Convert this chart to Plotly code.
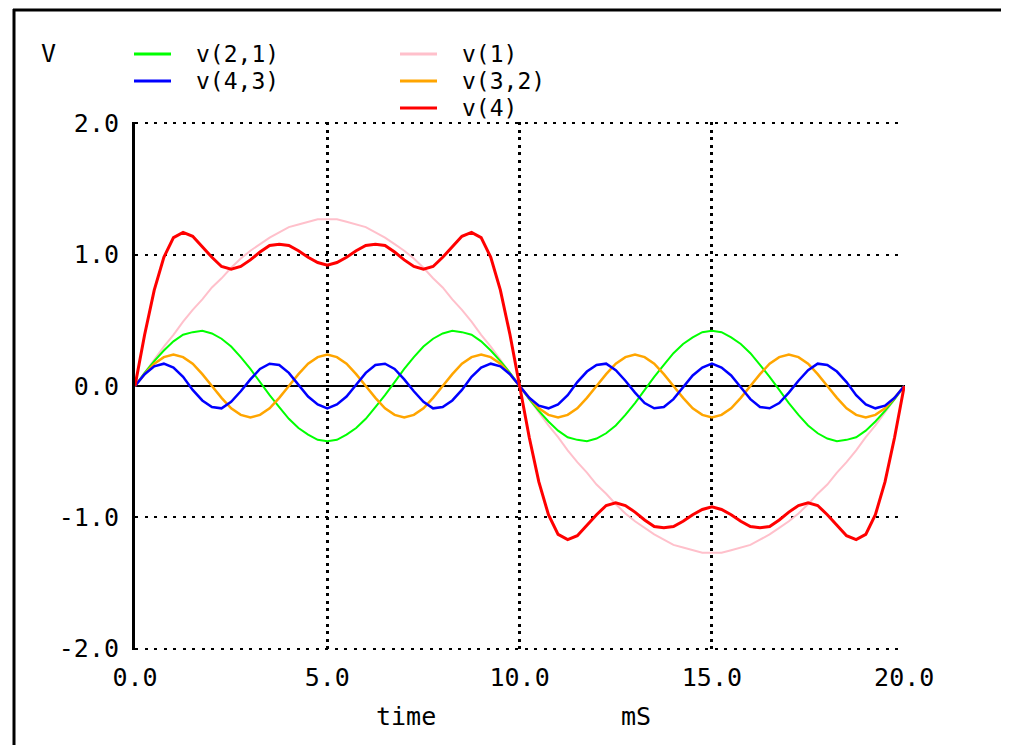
import plotly.graph_objects as go

# ---------------- data ----------------
time_ms = [0, 0.25, 0.5, 0.75, 1, 1.25, 1.5, 1.75, 2, 2.25,
           2.5, 2.75, 3, 3.25, 3.5, 3.75, 4, 4.25, 4.5, 4.75,
           5, 5.25, 5.5, 5.75, 6, 6.25, 6.5, 6.75, 7, 7.25,
           7.5, 7.75, 8, 8.25, 8.5, 8.75, 9, 9.25, 9.5, 9.75,
           10, 10.25, 10.5, 10.75, 11, 11.25, 11.5, 11.75, 12, 12.25,
           12.5, 12.75, 13, 13.25, 13.5, 13.75, 14, 14.25, 14.5, 14.75,
           15, 15.25, 15.5, 15.75, 16, 16.25, 16.5, 16.75, 17, 17.25,
           17.5, 17.75, 18, 18.25, 18.5, 18.75, 19, 19.25, 19.5, 19.75, 20]

v1 = [0, 0.10, 0.20, 0.30, 0.39, 0.49, 0.58, 0.66, 0.75, 0.82,
      0.90, 0.97, 1.03, 1.08, 1.13, 1.17, 1.21, 1.23, 1.25, 1.27,
      1.27, 1.27, 1.25, 1.23, 1.21, 1.17, 1.13, 1.08, 1.03, 0.97,
      0.90, 0.82, 0.75, 0.66, 0.58, 0.49, 0.39, 0.30, 0.20, 0.10,
      0, -0.10, -0.20, -0.30, -0.39, -0.49, -0.58, -0.66, -0.75, -0.82,
      -0.90, -0.97, -1.03, -1.08, -1.13, -1.17, -1.21, -1.23, -1.25, -1.27,
      -1.27, -1.27, -1.25, -1.23, -1.21, -1.17, -1.13, -1.08, -1.03, -0.97,
      -0.90, -0.82, -0.75, -0.66, -0.58, -0.49, -0.39, -0.30, -0.20, -0.10, 0]

v21 = [0, 0.10, 0.19, 0.27, 0.34, 0.39, 0.41, 0.42, 0.40, 0.36,
       0.30, 0.22, 0.13, 0.03, -0.07, -0.16, -0.25, -0.32, -0.37, -0.41,
       -0.42, -0.41, -0.37, -0.32, -0.25, -0.16, -0.07, 0.03, 0.13, 0.22,
       0.30, 0.36, 0.40, 0.42, 0.41, 0.39, 0.34, 0.27, 0.19, 0.10,
       0, -0.10, -0.19, -0.27, -0.34, -0.39, -0.41, -0.42, -0.40, -0.36,
       -0.30, -0.22, -0.13, -0.03, 0.07, 0.16, 0.25, 0.32, 0.37, 0.41,
       0.42, 0.41, 0.37, 0.32, 0.25, 0.16, 0.07, -0.03, -0.13, -0.22,
       -0.30, -0.36, -0.40, -0.42, -0.41, -0.39, -0.34, -0.27, -0.19, -0.10, 0]

v32 = [0, 0.09, 0.17, 0.22, 0.24, 0.22, 0.17, 0.09, 0, -0.09,
       -0.17, -0.22, -0.24, -0.22, -0.17, -0.09, 0, 0.09, 0.17, 0.22,
       0.24, 0.22, 0.17, 0.09, 0, -0.09, -0.17, -0.22, -0.24, -0.22,
       -0.17, -0.09, 0, 0.09, 0.17, 0.22, 0.24, 0.22, 0.17, 0.09,
       0, -0.09, -0.17, -0.22, -0.24, -0.22, -0.17, -0.09, 0, 0.09,
       0.17, 0.22, 0.24, 0.22, 0.17, 0.09, 0, -0.09, -0.17, -0.22,
       -0.24, -0.22, -0.17, -0.09, 0, 0.09, 0.17, 0.22, 0.24, 0.22,
       0.17, 0.09, 0, -0.09, -0.17, -0.22, -0.24, -0.22, -0.17, -0.09, 0]

v43 = [0, 0.09, 0.15, 0.17, 0.14, 0.07, -0.03, -0.11, -0.16, -0.17,
       -0.12, -0.04, 0.05, 0.13, 0.17, 0.16, 0.10, 0.01, -0.08, -0.14,
       -0.17, -0.14, -0.08, 0.01, 0.10, 0.16, 0.17, 0.13, 0.05, -0.04,
       -0.12, -0.17, -0.16, -0.11, -0.03, 0.07, 0.14, 0.17, 0.15, 0.09,
       0, -0.09, -0.15, -0.17, -0.14, -0.07, 0.03, 0.11, 0.16, 0.17,
       0.12, 0.04, -0.05, -0.13, -0.17, -0.16, -0.10, -0.01, 0.08, 0.14,
       0.17, 0.14, 0.08, -0.01, -0.10, -0.16, -0.17, -0.13, -0.05, 0.04,
       0.12, 0.17, 0.16, 0.11, 0.03, -0.07, -0.14, -0.17, -0.15, -0.09, 0]

v4 = [0, 0.39, 0.73, 0.98, 1.13, 1.17, 1.14, 1.06, 0.98, 0.91,
      0.89, 0.91, 0.96, 1.02, 1.07, 1.08, 1.07, 1.03, 0.98, 0.94,
      0.92, 0.94, 0.98, 1.03, 1.07, 1.08, 1.07, 1.02, 0.96, 0.91,
      0.89, 0.91, 0.98, 1.06, 1.14, 1.17, 1.13, 0.98, 0.73, 0.39,
      0, -0.39, -0.73, -0.98, -1.13, -1.17, -1.14, -1.06, -0.98, -0.91,
      -0.89, -0.91, -0.96, -1.02, -1.07, -1.08, -1.07, -1.03, -0.98, -0.94,
      -0.92, -0.94, -0.98, -1.03, -1.07, -1.08, -1.07, -1.02, -0.96, -0.91,
      -0.89, -0.91, -0.98, -1.06, -1.14, -1.17, -1.13, -0.98, -0.73, -0.39, 0]

x_ticks = [0, 5, 10, 15, 20]
x_tick_text = ["0.0", "5.0", "10.0", "15.0", "20.0"]
y_ticks = [-2, -1, 0, 1, 2]
y_tick_text = ["-2.0", "-1.0", "0.0", "1.0", "2.0"]

# name, values, colour, width  (drawing order)
series = [
    ("v(1)", v1, "#ffc0cb", 2),
    ("v(2,1)", v21, "#00ff00", 2),
    ("v(3,2)", v32, "#ffa500", 2.5),
    ("v(4,3)", v43, "#0000ff", 2.5),
    ("v(4)", v4, "#ff0000", 3),
]

# legend: name, colour, line-x0, line-x1, row-y, text-x  (page pixels)
legend_items = [
    ("v(2,1)", "#00ff00", 134, 171, 54, 195),
    ("v(4,3)", "#0000ff", 134, 171, 81, 195),
    ("v(1)", "#ffc0cb", 400, 437, 54, 461),
    ("v(3,2)", "#ffa500", 400, 437, 81, 461),
    ("v(4)", "#ff0000", 400, 437, 108, 461),
]

# ---------------- layout helpers ----------------
OFF = 8                      # page body margin
W, H = 993, 737              # figure size (fits the 1009x753 window)
PL, PR, PT, PB = 127, 897, 114, 642   # plot area in figure pixels
FONT = dict(family="DejaVu Sans Mono", size=25, color="black")
LEG_FONT = dict(family="DejaVu Sans Mono", size=23, color="black")


def pxx(x_page):
    return (x_page - OFF - PL) / (PR - PL)


def pxy(y_page):
    return (PB - (y_page - OFF)) / (PB - PT)


fig = go.Figure()
for name, vals, color, width in series:
    fig.add_trace(go.Scatter(x=time_ms, y=vals, mode="lines", name=name,
                             line=dict(color=color, width=width),
                             showlegend=False, hoverinfo="skip"))

shapes = []
annotations = []

# legend samples
for name, color, x0, x1, yy, tx in legend_items:
    shapes.append(dict(type="line", xref="paper", yref="paper",
                       x0=pxx(x0), x1=pxx(x1), y0=pxy(yy), y1=pxy(yy),
                       line=dict(color=color, width=3)))
    annotations.append(dict(text=name, xref="paper", yref="paper",
                            x=pxx(tx), y=pxy(yy), xanchor="left", yanchor="middle",
                            showarrow=False, font=LEG_FONT, borderpad=0))

# window frame (left and top)
shapes.append(dict(type="line", xref="paper", yref="paper",
                   x0=pxx(14), x1=pxx(14), y0=pxy(9), y1=pxy(760),
                   line=dict(color="black", width=3)))
shapes.append(dict(type="line", xref="paper", yref="paper",
                   x0=pxx(13), x1=pxx(1001), y0=pxy(10), y1=pxy(10),
                   line=dict(color="black", width=3)))

annotations.append(dict(text="V", xref="paper", yref="paper", x=pxx(48), y=pxy(54),
                        xanchor="center", yanchor="middle", showarrow=False, font=FONT))
annotations.append(dict(text="time", xref="paper", yref="paper", x=pxx(406), y=pxy(716),
                        xanchor="center", yanchor="middle", showarrow=False, font=FONT))
annotations.append(dict(text="mS", xref="paper", yref="paper", x=pxx(636), y=pxy(716),
                        xanchor="center", yanchor="middle", showarrow=False, font=FONT))

fig.update_layout(
    width=W, height=H,
    margin=dict(l=PL, r=W - PR, t=PT, b=H - PB, pad=0),
    paper_bgcolor="white", plot_bgcolor="white",
    shapes=shapes, annotations=annotations,
    font=FONT,
    xaxis=dict(range=[0, 20.02], tickvals=x_ticks, ticktext=x_tick_text,
               showgrid=True, gridcolor="black", gridwidth=2.5, griddash="3px,4.6px",
               zeroline=False, showline=False, ticks="", tickfont=FONT,
               ticklabelstandoff=10, fixedrange=True),
    yaxis=dict(range=[-2.01, 2.01], tickvals=y_ticks, ticktext=y_tick_text,
               showgrid=True, gridcolor="black", gridwidth=2, griddash="3px,6.5px",
               zeroline=True, zerolinecolor="black", zerolinewidth=2,
               showline=True, linecolor="black", linewidth=3,
               ticks="", tickfont=FONT, ticklabelstandoff=8, fixedrange=True),
)

fig.write_html("out.html")
